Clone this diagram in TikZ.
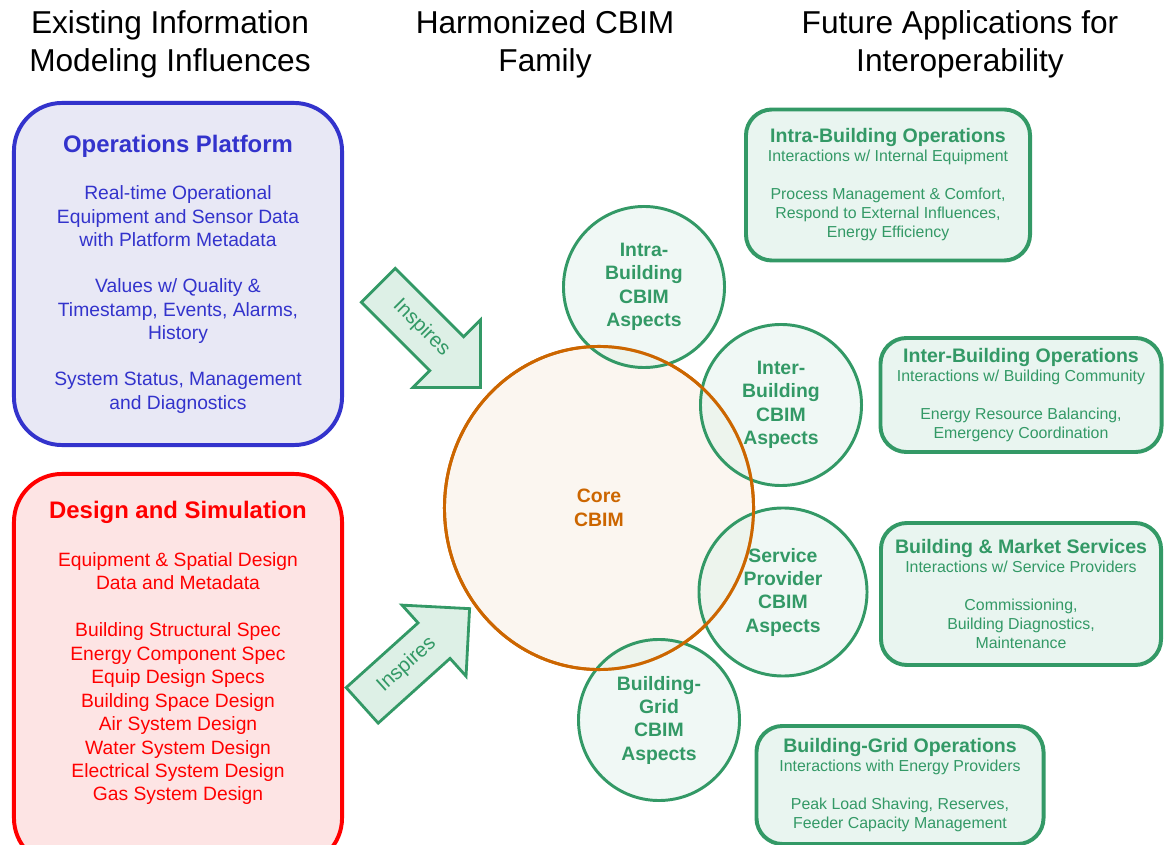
\documentclass[tikz,border=0pt]{standalone}
\usepackage{fontspec}
\setmainfont{Liberation Sans}
\usetikzlibrary{shapes.geometric,shapes.arrows}

\definecolor{opsblue}{HTML}{3333CC}
\definecolor{opsfill}{HTML}{E8E8F5}
\definecolor{desred}{HTML}{FF0000}
\definecolor{desfill}{HTML}{FDE4E4}
\definecolor{cbimgreen}{HTML}{339966}
\definecolor{appfill}{HTML}{E9F5F0}
\definecolor{aspfill}{HTML}{E3F3EC}
\definecolor{arrowfill}{HTML}{DDF0E6}
\definecolor{coreorange}{HTML}{CC6600}
\definecolor{corefill}{HTML}{FBF6F0}

\newcommand{\boxhead}[1]{{\bfseries\fontsize{17}{20}\selectfont #1}}
\newcommand{\apphead}[1]{{\bfseries\fontsize{13.9}{15}\selectfont #1}}

\begin{document}
\begin{tikzpicture}[
      x=0.025cm, y=-0.025cm,
      head/.style={font=\fontsize{22.5}{27}\selectfont, align=center},
      sidebox/.style={rounded corners=1.2cm, line width=2.8pt,
        minimum width=8.2cm},
      sidetext/.style={align=center, font=\fontsize{13.7}{16.7}\selectfont},
      appbox/.style={draw=cbimgreen, fill=appfill, rounded corners=0.65cm,
        line width=2.8pt, align=center, text=cbimgreen,
        font=\fontsize{11.3}{13.5}\selectfont},
      aspect/.style={circle, draw=cbimgreen, fill=aspfill, fill opacity=0.55,
        text opacity=1, line width=2.1pt, inner sep=0pt, minimum size=4.025cm,
        align=center, text=cbimgreen, font=\bfseries\fontsize{13.8}{16.6}\selectfont},
      inspire/.style={single arrow, single arrow tip angle=90,
        single arrow head extend=17pt, draw=cbimgreen, fill=arrowfill,
        line width=2pt, text=cbimgreen, font=\fontsize{14.5}{16}\selectfont,
        text height=10pt, text depth=3pt, inner xsep=16.5pt, inner ysep=9.5pt}
    ]
    \useasboundingbox (0,0) rectangle (1164,845);

      % column headings
    \node[head] (exist) at (170,44) {Existing Information\\Modeling Influences};
    \node[head] (harmon) at (545,44) {Harmonized CBIM\\Family};
    \node[head] (future) at (960,44) {Future Applications for\\Interoperability};

      % existing influences
    \node[sidebox, sidetext, draw=opsblue, fill=opsfill, text=opsblue,
      minimum height=8.55cm] (ops) at (178,274) {\boxhead{Operations Platform}\\[17pt]
      Real-time Operational\\ Equipment and Sensor Data\\ with Platform Metadata\\[16pt]
      Values w/ Quality \&\\ Timestamp, Events, Alarms,\\ History\\[16pt]
      System Status, Management\\ and Diagnostics};
    \node[sidebox, draw=desred, fill=desfill, minimum height=9.8cm] (design) at (178,670) {};
    \node[sidetext, text=desred] (designtxt) at (178,653) {\boxhead{Design and Simulation}\\[17.5pt]
      Equipment \& Spatial Design\\ Data and Metadata\\[16.5pt]
      Building Structural Spec\\ Energy Component Spec\\ Equip Design Specs\\
      Building Space Design\\ Air System Design\\ Water System Design\\
      Electrical System Design\\ Gas System Design};

      % harmonized family
    \node[ellipse, draw=coreorange, fill=corefill, line width=2.1pt,
      minimum width=7.725cm, minimum height=8.075cm, align=center, text=coreorange,
      font=\bfseries\fontsize{13.8}{17}\selectfont] (core) at (599,508) {Core\\CBIM};
    \node[aspect] (intra) at (644,287) {Intra-\\Building\\CBIM\\Aspects};
    \node[aspect] (inter) at (781,405) {Inter-\\Building\\CBIM\\Aspects};
    \node[aspect, minimum size=4.2cm] (service) at (783,592) {Service\\Provider\\CBIM\\Aspects};
    \node[aspect] (grid) at (659,720) {Building-\\Grid\\CBIM\\Aspects};
      % keep the core rim on top of the aspects
    \draw[coreorange, line width=2.1pt] (core.center) ellipse [x radius=3.8625cm, y radius=4.0375cm];

      % future applications
    \node[appbox, minimum width=7.1cm, minimum height=3.775cm] (intraops) at (888,185)
      {\apphead{Intra-Building Operations}\\ Interactions w/ Internal Equipment\\[13.5pt]
      Process Management \& Comfort,\\ Respond to External Influences,\\ Energy Efficiency};
    \node[appbox, minimum width=7.025cm, minimum height=2.85cm] (interops) at (1021,395)
      {\apphead{Inter-Building Operations}\\ Interactions w/ Building Community\\[13.5pt]
      Energy Resource Balancing,\\ Emergency Coordination};
    \node[appbox, minimum width=7cm, minimum height=3.55cm] (market) at (1021,594)
      {\apphead{Building \& Market Services}\\ Interactions w/ Service Providers\\[13.5pt]
      Commissioning,\\ Building Diagnostics,\\ Maintenance};
    \node[appbox, minimum width=7.175cm, minimum height=2.95cm] (gridops) at (900,785)
      {\apphead{Building-Grid Operations}\\ Interactions with Energy Providers\\[13.5pt]
      Peak Load Shaving, Reserves,\\ Feeder Capacity Management};

      % the two inspires arrows
    \node[inspire, rotate=-45] (inspops) at (421,328) {Inspires};
    \node[inspire, rotate=42] (inspdes) at (407,665) {Inspires};

\end{tikzpicture}
\end{document}
